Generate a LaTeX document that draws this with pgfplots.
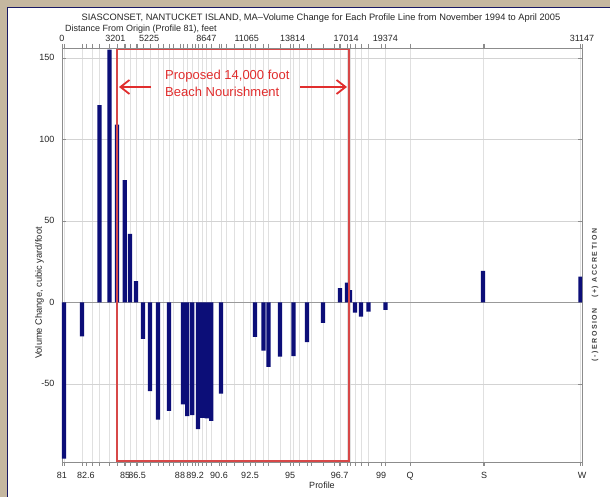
\documentclass[border=0pt]{standalone}
\usepackage{fontspec}
\setmainfont{Liberation Sans}
\newfontfamily\spaced[LetterSpace=22]{Liberation Sans}
\usepackage{pgfplots}
\pgfplotsset{compat=1.18}
\usetikzlibrary{arrows.meta}
\definecolor{bgtan}{RGB}{197,183,160}
\definecolor{navy}{RGB}{12,14,120}
\definecolor{framec}{RGB}{25,25,100}
\definecolor{axgray}{RGB}{140,140,140}
\definecolor{gridgray}{RGB}{224,224,224}
\definecolor{anred}{RGB}{225,45,45}
\definecolor{boxred}{RGB}{215,72,72}
\begin{document}
\begin{tikzpicture}[x=1pt,y=1pt]
\fill[bgtan] (-62,-35) rectangle (548,462);
\fill[white] (-54,-35) rectangle (548,454);
\draw[framec, line width=1pt] (-54,-35) -- (-54,454) -- (548,454);
\begin{axis}[
  at={(0,0)}, anchor=south west,
  width=520pt, height=414pt, scale only axis,
  xmin=0, xmax=31147, ymin=-98, ymax=156,
  clip mode=individual,
  scaled x ticks=false, scaled y ticks=false,
  axis line style={axgray, line width=0.6pt},
  tick align=inside, xtick pos=both, ytick pos=both,
  tick style={axgray, line width=0.5pt},
  major tick length=4pt, minor tick length=4pt,
  xtick={0,1437,3774,4493,7068,7967,9404,11261,13657,16622,19108,20845,25278,31147},
  xticklabels={81,82.6,85,86.5,88,89.2,90.6,92.5,95,96.7,99,Q,S,W},
  minor xtick={120,1198,1785,2252,2851,3294,3756,4073,4432,4852,5271,5750,6074,6409,6649,7248,7505,7805,8146,8404,8667,8943,9524,9823,10339,10842,11261,11561,12069,12369,13058,13657,13867,14232,14675,14914,15633,16328,16651,17071,17251,17550,17910,18359,19377,20845,25217,31057},
  xminorgrids, minor grid style={gridgray, line width=0.5pt},
  ytick={-50,0,50,100,150},
  ymajorgrids, major grid style={gridgray!94!black, line width=0.5pt},
  tick label style={font=\fontsize{9}{10}\selectfont, text=black!85},
  /pgf/number format/assume math mode=true,
  xticklabel style={yshift=-3pt},
  yticklabel style={xshift=-4pt},
  ybar, bar width=4.2pt,
]
\draw[gray!80, line width=0.6pt] (axis cs:0,0) -- (axis cs:31147,0);
\addplot[fill=navy, draw=none] coordinates {
(120,-96) (1198,-21) (2252,121) (2851,155) (3294,109) (3756,75) (4073,42) (4432,13)
(4852,-22.5) (5271,-54.5) (5750,-72) (6409,-66.6) (7248,-62.6) (7505,-69.8) (7805,-69.3)
(8146,-77.9) (8404,-71) (8667,-71.3) (8943,-72.8) (9524,-56) (11561,-21.2) (12069,-29.6)
(12369,-39.6) (13058,-33.4) (13867,-33) (14675,-24.5) (15633,-12.6) (16651,8.6) (17071,12)
(17251,7.5) (17550,-6.4) (17910,-8.8) (18359,-5.7) (19377,-4.7) (25217,19.3) (31057,15.7)
};
\draw[boxred, line width=1.8pt] (axis cs:3276,-97.3) rectangle (axis cs:17209,155.3);
\end{axis}
\begin{axis}[
  at={(0,0)}, anchor=south west,
  width=520pt, height=414pt, scale only axis,
  xmin=0, xmax=31147, ymin=0, ymax=1,
  scaled x ticks=false,
  axis x line*=top, axis y line=none,
  axis line style={axgray, line width=0.6pt},
  xtick={0,3201,5225,8647,11065,13814,17014,19374,31147},
  xticklabels={0,3201,5225,8647,11065,13814,17014,19374,31147},
  major tick length=0pt,
  tick label style={font=\fontsize{9}{10}\selectfont, text=black!85},
  xticklabel style={yshift=3pt},
]
\end{axis}
\node[font=\fontsize{9.3}{11}\selectfont, text=black!85] at (259,444) {SIASCONSET, NANTUCKET ISLAND, MA--Volume Change for Each Profile Line from November 1994 to April 2005};
\node[anchor=west, inner sep=0, font=\fontsize{9}{10}\selectfont, text=black!85] at (3,433) {Distance From Origin (Profile 81), feet};
\node[rotate=90, font=\fontsize{9.3}{10}\selectfont, text=black!85] at (-22.5,169) {Volume Change, cubic yard/foot};
\node[font=\fontsize{9}{10}\selectfont, text=black!85] at (260,-23) {Profile};
\node[anchor=base west, inner sep=0, text=anred, font=\fontsize{13}{15}\selectfont] at (103,382) {Proposed 14,000 foot};
\node[anchor=base west, inner sep=0, text=anred, font=\fontsize{13}{15}\selectfont] at (103,365) {Beach Nourishment};
\draw[anred, line width=1.8pt, -{Straight Barb[length=9pt,width=14pt]}] (89,375) -- (57,375);
\draw[anred, line width=1.8pt, -{Straight Barb[length=9pt,width=14pt]}] (238,375) -- (285,375);
\node[rotate=90, anchor=east, inner sep=0, font=\spaced\bfseries\fontsize{7}{8}\selectfont, text=black!75] at (533,154) {(-)EROSION};
\node[rotate=90, anchor=west, inner sep=0, font=\spaced\bfseries\fontsize{7}{8}\selectfont, text=black!75] at (533,164) {(+) ACCRETION};
\pgfresetboundingbox
\useasboundingbox (-62,-35) rectangle (548,462);
\end{tikzpicture}
\end{document}
